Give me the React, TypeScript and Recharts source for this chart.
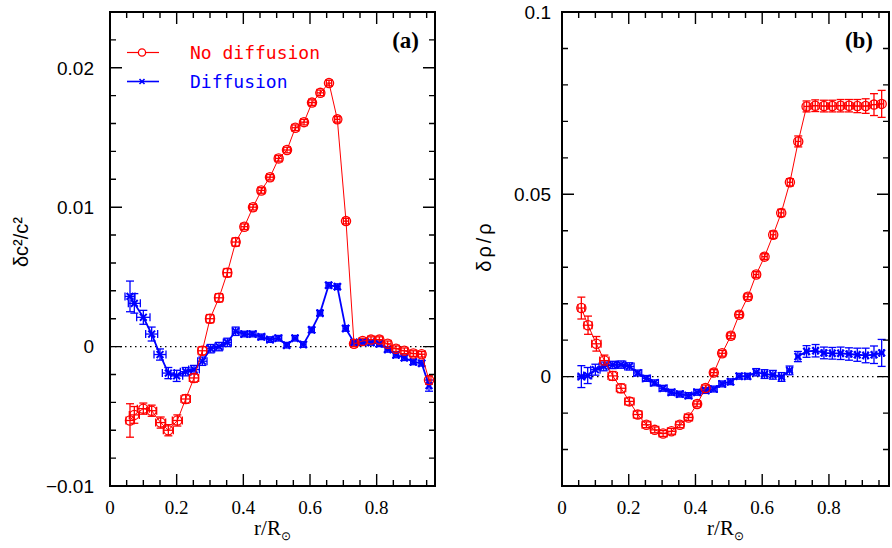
import { ScatterChart, Scatter, XAxis, YAxis, ErrorBar, ReferenceLine, ReferenceArea } from 'recharts';

const RED = '#ff0000';
const BLUE = '#0000ff';

// ---- panel (a): delta c^2 / c^2 ----
const rNoDiffA = [0.06, 0.073, 0.1, 0.125, 0.152, 0.175, 0.202, 0.227, 0.252, 0.277, 0.3, 0.327, 0.352, 0.377, 0.403, 0.429, 0.454, 0.48, 0.506, 0.531, 0.556, 0.582, 0.606, 0.631, 0.657, 0.682, 0.708, 0.732, 0.758, 0.783, 0.808, 0.833, 0.858, 0.883, 0.91, 0.935, 0.957];
const noDiffA = [-0.0053, -0.0049, -0.00445, -0.0046, -0.00545, -0.006, -0.0053, -0.00376, -0.00225, -0.0003, 0.002, 0.0035, 0.0053, 0.0075, 0.0086, 0.01, 0.0112, 0.01215, 0.0135, 0.0141, 0.0157, 0.0161, 0.0175, 0.0182, 0.0189, 0.0163, 0.009, 0.0002, 0.0004, 0.0005, 0.0005, 0.0002, -0.00015, -0.0003, -0.0005, -0.00055, -0.0024];
const noDiffAErrR = [0.012, 0.015, 0.018, 0.015, 0.015, 0.015, 0.015, 0.014, 0.014, 0.013, 0.012, 0.012, 0.012, 0.011, 0.01, 0.01, 0.01, 0.01, 0.01, 0.01, 0.01, 0.01, 0.01, 0.01, 0.008, 0.008, 0.008, 0.01, 0.01, 0.01, 0.01, 0.01, 0.01, 0.01, 0.01, 0.01, 0.006];
const noDiffAErr = [0.0012, 0.0006, 0.0004, 0.0004, 0.0004, 0.0004, 0.0004, 0.0003, 0.0003, 0.0003, 0.0003, 0.0003, 0.0003, 0.0003, 0.0002, 0.0002, 0.0002, 0.0002, 0.0002, 0.0002, 0.0002, 0.0002, 0.0002, 0.0002, 0.0002, 0.0002, 0.0002, 0.0002, 0.0002, 0.0002, 0.0002, 0.0002, 0.0002, 0.0002, 0.0002, 0.0002, 0.0003];

const rDiffA = [0.06, 0.073, 0.1, 0.125, 0.15, 0.175, 0.2, 0.227, 0.252, 0.277, 0.302, 0.327, 0.352, 0.377, 0.403, 0.428, 0.454, 0.48, 0.505, 0.53, 0.555, 0.58, 0.605, 0.63, 0.656, 0.682, 0.707, 0.732, 0.758, 0.783, 0.808, 0.833, 0.858, 0.883, 0.91, 0.935, 0.957];
const diffA = [0.0036, 0.0031, 0.0021, 0.0009, -0.00057, -0.0019, -0.0021, -0.0018, -0.00165, -0.00105, -0.00015, 0.0, 0.0003, 0.0011, 0.0009, 0.0009, 0.0007, 0.0005, 0.0006, 0.0001, 0.0006, 0.00015, 0.0012, 0.0024, 0.0044, 0.0043, 0.0013, 0.0003, 0.0003, 0.0003, 0.0002, -0.0002, -0.0006, -0.0008, -0.0011, -0.0012, -0.0028];
const diffAErrR = [0.015, 0.018, 0.02, 0.018, 0.018, 0.018, 0.018, 0.016, 0.016, 0.014, 0.012, 0.012, 0.012, 0.01, 0.01, 0.01, 0.01, 0.01, 0.01, 0.008, 0.008, 0.008, 0.008, 0.008, 0.008, 0.008, 0.008, 0.008, 0.008, 0.008, 0.008, 0.008, 0.008, 0.008, 0.008, 0.008, 0.005];
const diffAErr = [0.0011, 0.0007, 0.0005, 0.0005, 0.0004, 0.0004, 0.0004, 0.0003, 0.0003, 0.0003, 0.0003, 0.0003, 0.0003, 0.0003, 0.0002, 0.0002, 0.0002, 0.0002, 0.0002, 0.0002, 0.0002, 0.0002, 0.0002, 0.0002, 0.0002, 0.0002, 0.0002, 0.0002, 0.0002, 0.0002, 0.0002, 0.0002, 0.0002, 0.0002, 0.0002, 0.0002, 0.0004];

// ---- panel (b): delta rho / rho ----
const rNoDiffB = [0.058, 0.078, 0.103, 0.127, 0.152, 0.177, 0.202, 0.227, 0.253, 0.278, 0.303, 0.328, 0.353, 0.379, 0.405, 0.43, 0.455, 0.48, 0.506, 0.531, 0.557, 0.582, 0.607, 0.633, 0.657, 0.683, 0.708, 0.733, 0.759, 0.785, 0.81, 0.835, 0.86, 0.885, 0.91, 0.935, 0.958];
const noDiffB = [0.0188, 0.0141, 0.009, 0.0044, 0.0002, -0.0032, -0.0068, -0.0104, -0.0132, -0.0146, -0.0156, -0.015, -0.0132, -0.0112, -0.0075, -0.0031, 0.0011, 0.0064, 0.0112, 0.017, 0.0219, 0.028, 0.0329, 0.0389, 0.0449, 0.0533, 0.0645, 0.0741, 0.0743, 0.0742, 0.0742, 0.0743, 0.0743, 0.0742, 0.0742, 0.0746, 0.0748];
const noDiffBErrR = [0.01, 0.012, 0.014, 0.014, 0.014, 0.014, 0.014, 0.013, 0.013, 0.012, 0.012, 0.012, 0.012, 0.012, 0.01, 0.01, 0.01, 0.01, 0.01, 0.01, 0.01, 0.008, 0.008, 0.008, 0.008, 0.008, 0.008, 0.008, 0.008, 0.008, 0.008, 0.008, 0.008, 0.008, 0.008, 0.008, 0.006];
const noDiffBErr = [0.003, 0.0025, 0.002, 0.0015, 0.0012, 0.0012, 0.001, 0.001, 0.0008, 0.0008, 0.0008, 0.0008, 0.0008, 0.0008, 0.0008, 0.0008, 0.0008, 0.0008, 0.0008, 0.0008, 0.0008, 0.0008, 0.0008, 0.001, 0.001, 0.001, 0.0015, 0.0015, 0.0016, 0.0016, 0.0016, 0.0017, 0.0017, 0.0018, 0.002, 0.003, 0.0037];

const rDiffB = [0.058, 0.077, 0.1, 0.125, 0.152, 0.177, 0.202, 0.227, 0.253, 0.277, 0.303, 0.328, 0.353, 0.379, 0.405, 0.43, 0.455, 0.48, 0.505, 0.531, 0.556, 0.582, 0.607, 0.632, 0.658, 0.682];
const diffB = [0.0, 0.0003, 0.0019, 0.0028, 0.0032, 0.0033, 0.0028, 0.001, -0.0005, -0.0017, -0.0032, -0.0043, -0.0048, -0.0052, -0.0043, -0.0038, -0.0034, -0.002, -0.0014, 0.0001, 0.0001, 0.0012, 0.0007, 0.0005, -0.0001, 0.0017];
const diffBErrR = [0.01, 0.012, 0.014, 0.014, 0.014, 0.014, 0.014, 0.012, 0.012, 0.012, 0.012, 0.01, 0.01, 0.01, 0.01, 0.01, 0.01, 0.01, 0.008, 0.008, 0.008, 0.008, 0.008, 0.008, 0.008, 0.008];
const diffBErr = [0.003, 0.0022, 0.0015, 0.0012, 0.001, 0.001, 0.001, 0.0008, 0.0008, 0.0008, 0.0008, 0.0008, 0.0008, 0.0008, 0.0008, 0.0008, 0.0008, 0.0008, 0.0008, 0.0008, 0.0008, 0.001, 0.0012, 0.0012, 0.0012, 0.0012];
// outer points, plotted as a separate segment
const rDiffBOut = [0.707, 0.733, 0.76, 0.785, 0.81, 0.835, 0.86, 0.885, 0.91, 0.935, 0.958];
const diffBOut = [0.0055, 0.0069, 0.0071, 0.0065, 0.0064, 0.0064, 0.0062, 0.006, 0.0058, 0.006, 0.0065];
const diffBOutErrR = [0.006, 0.006, 0.006, 0.006, 0.006, 0.006, 0.006, 0.006, 0.006, 0.006, 0.006];
const diffBOutErr = [0.0014, 0.0016, 0.0017, 0.0016, 0.0016, 0.0017, 0.0017, 0.0018, 0.002, 0.0024, 0.0037];

// ---- ticks ----
const xMajor = [0, 0.2, 0.4, 0.6, 0.8];
const xMinor = [0.05, 0.1, 0.15, 0.25, 0.3, 0.35, 0.45, 0.5, 0.55, 0.65, 0.7, 0.75, 0.85, 0.9, 0.95];
const yMajorA = [-0.01, 0, 0.01, 0.02];
const yMinorA = [-0.008, -0.006, -0.004, -0.002, 0.002, 0.004, 0.006, 0.008, 0.012, 0.014, 0.016, 0.018, 0.022];
const yMajorB = [0, 0.05, 0.1];
const yMinorB = [-0.02, -0.01, 0.01, 0.02, 0.03, 0.04, 0.06, 0.07, 0.08, 0.09];

// plot-area layout (chart margin / axis sizes)
const TOP = 12;
const PLOT_H = 474;
const CHART_W = 446;

type Pt = { r: number; v: number; ex: number; ey: number };
const zip = (r: number[], v: number[], ex: number[], ey: number[]): Pt[] =>
  r.map((x, i) => ({ r: x, v: v[i], ex: ex[i], ey: ey[i] }));

const RedMark = (p: any) => (
  <circle cx={p.cx} cy={p.cy} r={4.6} fill="none" stroke={RED} strokeWidth={1.3} />
);
const BlueMark = (p: any) => {
  const s = 3.4;
  const cx = Number(p.cx);
  const cy = Number(p.cy);
  return (
    <path
      d={`M${cx - s},${cy - s}L${cx + s},${cy + s}M${cx - s},${cy + s}L${cx + s},${cy - s}`}
      stroke={BLUE}
      strokeWidth={2}
    />
  );
};

const fmtY = (v: number) => (v < 0 ? '\u2212' + String(-v) : String(v));
const SERIF = 'Liberation Serif';
const SANS = 'Liberation Sans';

const XTickLabel = (props: any) => (
  <text x={Number(props.x)} y={Number(props.y) + 28} textAnchor="middle" fontFamily={SERIF} fontSize={19} fill="#000">
    {String(props.payload.value)}
  </text>
);
const YTickLabel = (props: any) => (
  <text x={Number(props.x)} y={Number(props.y) + 6.8} textAnchor="end" fontFamily={SANS} fontSize={19} fill="#000">
    {fmtY(props.payload.value)}
  </text>
);

const FrameBox = (props: any) => (
  <rect x={Number(props.x)} y={Number(props.y)} width={Number(props.width)} height={Number(props.height)}
    stroke="#000" strokeWidth={2} fill="none" />
);

// inward tick marks on all four sides of a panel's plot area
function tickPath(left: number, w: number, xMax: number, y0: number, y1: number, yMajor: number[], yMinor: number[]) {
  const px = (v: number) => left + (w * v) / xMax;
  const py = (v: number) => TOP + (PLOT_H * (y1 - v)) / (y1 - y0);
  const bottom = TOP + PLOT_H;
  const segs: string[] = [];
  const addX = (v: number, len: number) => {
    const X = px(v);
    segs.push(`M${X},${bottom}L${X},${bottom - len}`, `M${X},${TOP}L${X},${TOP + len}`);
  };
  const addY = (v: number, len: number) => {
    const Y = py(v);
    segs.push(`M${left},${Y}L${left + len},${Y}`, `M${left + w},${Y}L${left + w - len},${Y}`);
  };
  xMajor.forEach((v) => addX(v, 12));
  xMinor.forEach((v) => addX(v, 6));
  yMajor.forEach((v) => addY(v, 12));
  yMinor.forEach((v) => addY(v, 6));
  return segs.join('');
}

interface SeriesDef {
  data: Pt[];
  color: string;
  width: number;
  shape: any;
}

interface PanelProps {
  left: number;
  yWidth: number;
  right: number;
  xMax: number;
  yDomain: [number, number];
  yMajor: number[];
  yLabelGap: number;
  yTitle: string;
  yTitleX: number;
  yTitleY: number;
  yTitleSpacing: number;
  series: SeriesDef[];
}

function Panel(p: PanelProps) {
  const [y0, y1] = p.yDomain;
  return (
    <div style={{ position: 'absolute', left: p.left, top: 0 }}>
      <ScatterChart width={CHART_W} height={548} margin={{ top: TOP, right: p.right, bottom: 0, left: 0 }}>
        <XAxis
          xAxisId="x" dataKey="r" type="number" domain={[0, p.xMax]} allowDataOverflow
          ticks={xMajor} interval={0} tickLine={false} axisLine={false} tickSize={0} tickMargin={0}
          height={62} tick={XTickLabel}
          label={(lp: any) => {
            const vb = lp.viewBox;
            const cx = Number(vb.x) + Number(vb.width) / 2;
            return (
              <text x={cx} y={Number(vb.y) + 49} textAnchor="middle" fontFamily={SERIF} fontSize={21}>
                <tspan>r/R</tspan>
                <tspan fontSize={12} dy={5}>{'\u2299'}</tspan>
              </text>
            );
          }}
        />
        <YAxis
          yAxisId="y" dataKey="v" type="number" domain={p.yDomain} allowDataOverflow
          ticks={p.yMajor} interval={0} tickLine={false} axisLine={false} tickSize={0} tickMargin={p.yLabelGap}
          width={p.yWidth} tick={YTickLabel}
          label={(lp: any) => {
            const vb = lp.viewBox;
            const x = Number(vb.x) + p.yTitleX;
            const y = p.yTitleY;
            return (
              <text x={x} y={y} transform={`rotate(-90 ${x} ${y})`} textAnchor="middle"
                fontFamily={SANS} fontSize={20} letterSpacing={p.yTitleSpacing}>
                {p.yTitle}
              </text>
            );
          }}
        />

        <ReferenceLine xAxisId="x" yAxisId="y" y={0} stroke="#000" strokeWidth={1.3} strokeDasharray="1.5 3.5" />
        <ReferenceArea xAxisId="x" yAxisId="y" x1={0} x2={p.xMax} y1={y0} y2={y1}
          ifOverflow="visible" shape={FrameBox} />

        {p.series.map((s, i) => (
          <Scatter key={i} xAxisId="x" yAxisId="y" data={s.data} dataKey="v"
            line={{ stroke: s.color, strokeWidth: s.width }} lineType="joint"
            shape={s.shape} isAnimationActive={false}>
            <ErrorBar dataKey="ey" direction="y" width={4} stroke={s.color} strokeWidth={1.3} />
            <ErrorBar dataKey="ex" direction="x" width={4} stroke={s.color} strokeWidth={1.3} />
          </Scatter>
        ))}
      </ScatterChart>
    </div>
  );
}

export default function App() {
  const seriesA: SeriesDef[] = [
    { data: zip(rDiffA, diffA, diffAErrR, diffAErr), color: BLUE, width: 1.8, shape: BlueMark },
    { data: zip(rNoDiffA, noDiffA, noDiffAErrR, noDiffAErr), color: RED, width: 1, shape: RedMark },
  ];
  const seriesB: SeriesDef[] = [
    { data: zip(rDiffB, diffB, diffBErrR, diffBErr), color: BLUE, width: 1.8, shape: BlueMark },
    { data: zip(rDiffBOut, diffBOut, diffBOutErrR, diffBOutErr), color: BLUE, width: 1.8, shape: BlueMark },
    { data: zip(rNoDiffB, noDiffB, noDiffBErrR, noDiffBErr), color: RED, width: 1, shape: RedMark },
  ];
  const mono = 'DejaVu Sans Mono';
  // panel geometry shared by charts and tick overlay
  const a = { left: 0, yWidth: 110, right: 11, xMax: 0.975, yDomain: [-0.01, 0.024] as [number, number] };
  const b = { left: 446, yWidth: 116, right: 3, xMax: 0.98, yDomain: [-0.03, 0.1] as [number, number] };
  const ticksA = tickPath(a.left + a.yWidth, CHART_W - a.yWidth - a.right, a.xMax, a.yDomain[0], a.yDomain[1], yMajorA, yMinorA);
  const ticksB = tickPath(b.left + b.yWidth, CHART_W - b.yWidth - b.right, b.xMax, b.yDomain[0], b.yDomain[1], yMajorB, yMinorB);
  return (
    <div style={{ position: 'absolute', left: 0, top: 0, width: 892, height: 548, background: '#fff' }}>
      <Panel {...a} yMajor={yMajorA} yLabelGap={16}
        yTitle={'\u03b4c\u00b2/c\u00b2'} yTitleX={28} yTitleY={242} yTitleSpacing={0} series={seriesA} />
      <Panel {...b} yMajor={yMajorB} yLabelGap={11}
        yTitle={'\u03b4\u03c1/\u03c1'} yTitleX={45} yTitleY={246} yTitleSpacing={3} series={seriesB} />
      <svg width={892} height={548} style={{ position: 'absolute', left: 0, top: 0, pointerEvents: 'none' }}>
        <path d={ticksA} stroke="#000" strokeWidth={1.4} fill="none" />
        <path d={ticksB} stroke="#000" strokeWidth={1.4} fill="none" />
        <line x1={127} x2={159} y1={52.5} y2={52.5} stroke={RED} strokeWidth={1.2} />
        <circle cx={142} cy={52.5} r={3.6} fill="#fff" stroke={RED} strokeWidth={1.3} />
        <text x={190} y={59} fill={RED} fontFamily={mono} fontSize={18}>No diffusion</text>
        <line x1={127} x2={159} y1={81.5} y2={81.5} stroke={BLUE} strokeWidth={1.6} />
        <path d="M139.5,79L144.5,84M139.5,84L144.5,79" stroke={BLUE} strokeWidth={1.6} />
        <text x={190} y={88} fill={BLUE} fontFamily={mono} fontSize={18}>Diffusion</text>
        <text x={419} y={48} textAnchor="end" fontFamily={SERIF} fontWeight="bold" fontSize={23}>(a)</text>
        <text x={873} y={48} textAnchor="end" fontFamily={SERIF} fontWeight="bold" fontSize={23}>(b)</text>
      </svg>
    </div>
  );
}
